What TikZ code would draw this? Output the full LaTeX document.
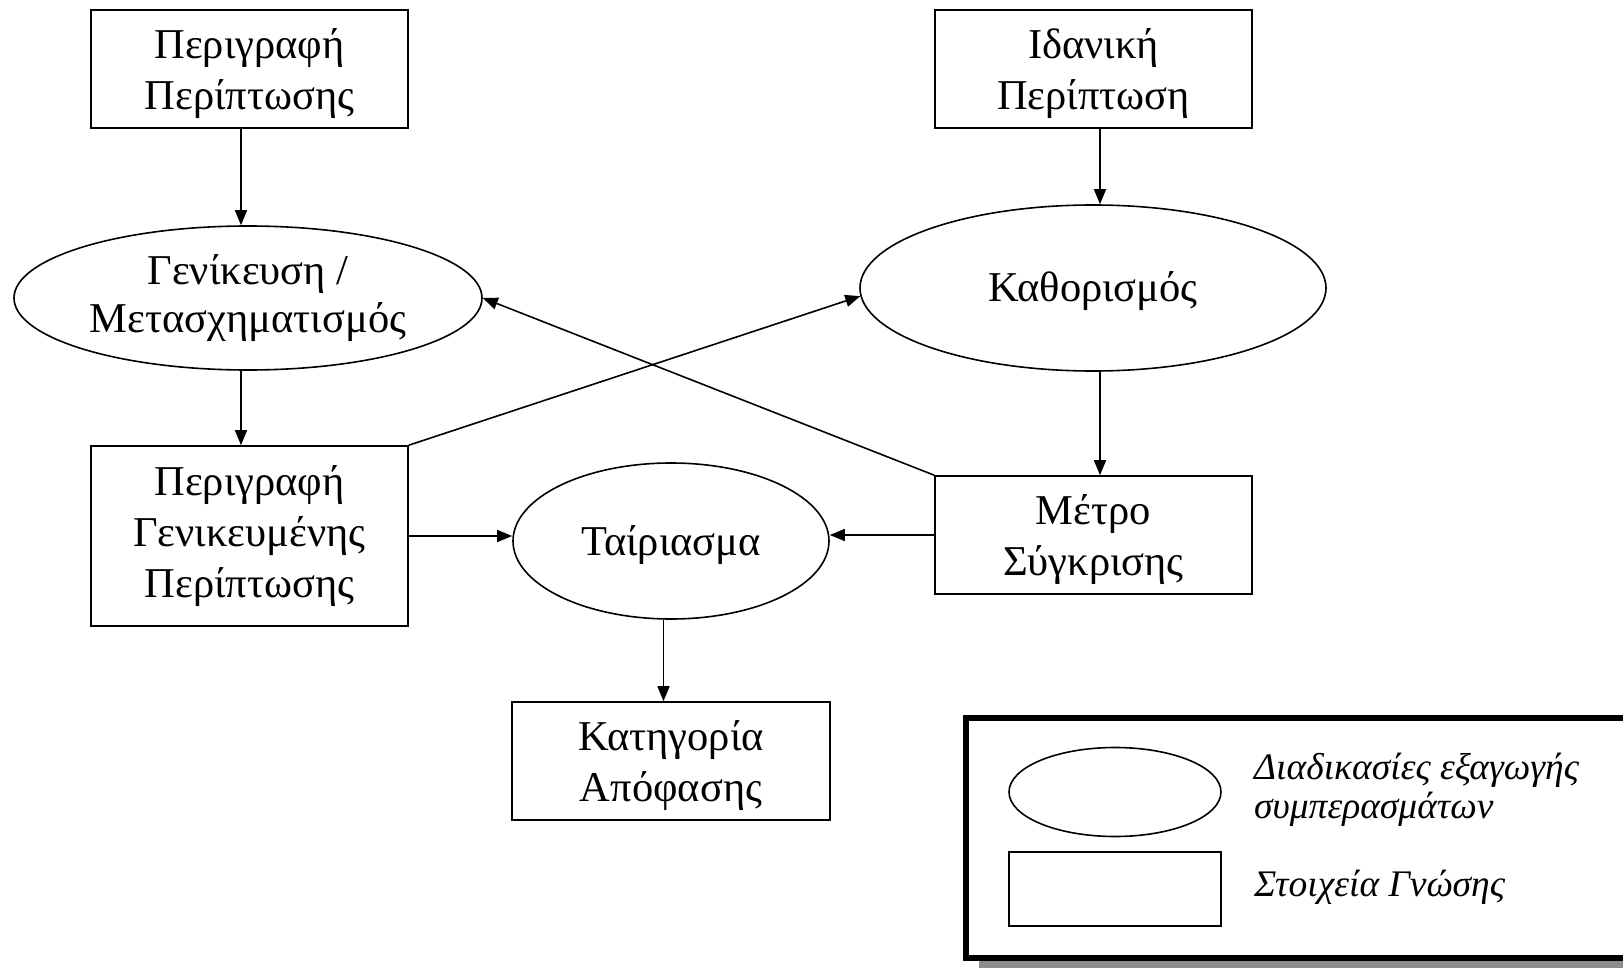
\documentclass[tikz,border=0pt]{standalone}
\usepackage{fontspec}
\setmainfont{Liberation Serif}
\usetikzlibrary{shapes.geometric,arrows.meta}
\begin{document}
\begin{tikzpicture}[x=1pt,y=-1pt,
  every node/.style={font=\fontsize{42.5}{51}\selectfont, align=center, inner sep=0pt},
  knowbox/.style={draw, line width=1.6pt, minimum width=317pt, minimum height=118pt},
  procell/.style={draw, ellipse, line width=1.6pt},
  flow/.style={line width=1.6pt, -{Triangle[length=15pt,width=12pt]}},
  legendtxt/.style={font=\fontsize{37.5}{39}\selectfont\itshape, align=left, anchor=west}]
\clip (0,0) rectangle (1623,968);
\fill[white] (0,0) rectangle (1623,968);

% column positions of the vertical connectors
\coordinate (colL) at (241,0);
\coordinate (colR) at (1100,0);
\coordinate (colM) at (663.5,0);

% knowledge elements
\node[knowbox] (b1) at (249.5,69) {\rule{0pt}{40pt}Περιγραφή\\Περίπτωσης};
\node[knowbox] (b2) at (1093.5,69) {\rule{0pt}{40pt}Ιδανική\\Περίπτωση};
\node[knowbox, minimum height=180pt] (b3) at (249.5,536) {Περιγραφή\\Γενικευμένης\\Περίπτωσης};
\node[knowbox] (b4) at (1093.5,535) {\rule{0pt}{40pt}Μέτρο\\Σύγκρισης};
\node[knowbox, minimum width=318pt] (b5) at (671,761) {\rule{0pt}{40pt}Κατηγορία\\Απόφασης};

% inference processes
\node[procell, minimum width=468pt, minimum height=144pt,
      font=\fontsize{42.5}{48}\selectfont] (e1) at (248,298) {Γενίκευση /\\Μετασχηματισμός};
\node[procell, minimum width=466pt, minimum height=166pt] (e2) at (1093,288) {\rule{0pt}{36pt}Καθορισμός};
\node[procell, minimum width=316pt, minimum height=156pt] (e3) at (671,541) {\rule{0pt}{38pt}Ταίριασμα};

% connectors
\draw[flow] (colL |- b1.south) -- (colL |- e1.north);
\draw[flow] (colL |- e1.south) -- (colL |- b3.north);
\draw[flow] (colR |- b2.south) -- (colR |- e2.north);
\draw[flow] (colR |- e2.south) -- (colR |- b4.north);
\draw[flow] (b3.east) -- (b3.east -| e3.west);
\draw[flow] (b4.west) -- (b4.west -| e3.east);
\draw[flow] (colM |- e3.south) -- (colM |- b5.north);
\draw[flow] (b3.north east) -- (e2.182);
\draw[flow] (b4.north west) -- (e1.east);

% legend
\fill[black!45] (979,725) rectangle (1660,975);
\draw[line width=6pt, fill=white] (966,718) rectangle (1650,958);
\node[draw, ellipse, line width=1.6pt, minimum width=212pt, minimum height=89pt] (le) at (1115,792) {};
\node[draw, line width=1.6pt, minimum width=212pt, minimum height=74pt] (lr) at (1115,889) {};
\node[legendtxt] (lt1) at (1254,790) {Διαδικασίες εξαγωγής\\συμπερασμάτων};
\node[legendtxt] (lt2) at (1254,887) {Στοιχεία Γνώσης};
\end{tikzpicture}
\end{document}
